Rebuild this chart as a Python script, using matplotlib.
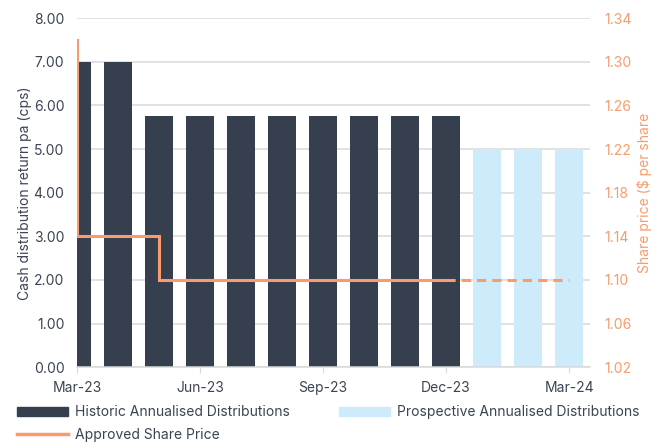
import numpy as np
import matplotlib
matplotlib.use('Agg')
import matplotlib.pyplot as plt
from matplotlib.patches import Patch
from matplotlib.lines import Line2D

# monthly distributions (cps)
months = ['Mar-23', 'Apr-23', 'May-23', 'Jun-23', 'Jul-23', 'Aug-23', 'Sep-23',
          'Oct-23', 'Nov-23', 'Dec-23', 'Jan-24', 'Feb-24', 'Mar-24']
historic = [7.00, 7.00, 5.75, 5.75, 5.75, 5.75, 5.75, 5.75, 5.75, 5.75]
prospective = [5.00, 5.00, 5.00]
tick_labels = ['Mar-23', 'Jun-23', 'Sep-23', 'Dec-23', 'Mar-24']

# approved share price, step change points (month index, $)
price_x = [0, 0, 2, 2, 9]
price_y = [1.32, 1.14, 1.14, 1.10, 1.10]
proj_x = [9, 12]
proj_y = [1.10, 1.10]

DARK = '#363f4e'
LIGHT = '#cdebfb'
ORANGE = '#f99b6c'
TEXT = '#3b4454'
GRID = '#d9d9d9'

plt.rcParams['font.family'] = ['Inter', 'DejaVu Sans']

fig = plt.figure(figsize=(6.52, 4.43), dpi=100)
ax = fig.add_axes([0.118, 0.171, 0.787, 0.788])

x = np.arange(len(months))
ax.bar(x[:len(historic)], historic, width=0.68, color=DARK, zorder=2)
ax.bar(x[len(historic):], prospective, width=0.68, color=LIGHT, zorder=2)

ax.set_xlim(0, 12.51)
ax.set_ylim(0, 8)
ax.set_yticks(np.arange(0, 8.01, 1))
ax.set_yticklabels([f'{v:.2f}' for v in np.arange(0, 8.01, 1)])
ax.set_xticks([0, 3, 6, 9, 12])
ax.set_xticklabels(tick_labels)
ax.grid(axis='y', color=GRID, lw=1.1, zorder=0)
ax.set_axisbelow(True)
for s in ['top', 'right', 'left']:
    ax.spines[s].set_visible(False)
ax.spines['bottom'].set_color(GRID)
ax.spines['bottom'].set_linewidth(1.1)
ax.tick_params(axis='x', colors=TEXT, length=4, color=GRID, labelsize=10, pad=6)
ax.tick_params(axis='y', colors=TEXT, length=0, labelsize=10, pad=9)
ax.set_ylabel('Cash distribution return pa (cps)', color=TEXT, fontsize=10, labelpad=1)

ax2 = ax.twinx()
ax2.set_ylim(1.02, 1.34)
ax2.set_yticks(np.arange(1.02, 1.341, 0.04))
ax2.set_yticklabels([f'{v:.2f}' for v in np.arange(1.02, 1.341, 0.04)])
for s in ax2.spines.values():
    s.set_visible(False)
ax2.tick_params(axis='y', colors=ORANGE, length=0, labelsize=10, pad=10)
ax2.set_ylabel('Share price ($ per share', color=ORANGE, fontsize=10, labelpad=4)
ax2.plot(price_x, price_y, color=ORANGE, lw=2.2, zorder=3, solid_joinstyle='miter')
ax2.plot(proj_x, proj_y, color=ORANGE, lw=2.2, ls=(0, (3, 2)), zorder=3)

handles = [Patch(color=DARK), Line2D([], [], color=ORANGE, lw=2.5), Patch(color=LIGHT)]
labels = ['Historic Annualised Distributions', 'Approved Share Price',
          'Prospective Annualised Distributions']
fig.legend(handles, labels, ncol=2, loc='upper left', bbox_to_anchor=(0.026, 0.085),
           frameon=False, fontsize=10, labelcolor=TEXT, handlelength=3.7,
           handleheight=0.6, handletextpad=0.5, columnspacing=3.5,
           labelspacing=0.6, borderaxespad=0, borderpad=0)

fig.savefig('out.png', dpi=100)
